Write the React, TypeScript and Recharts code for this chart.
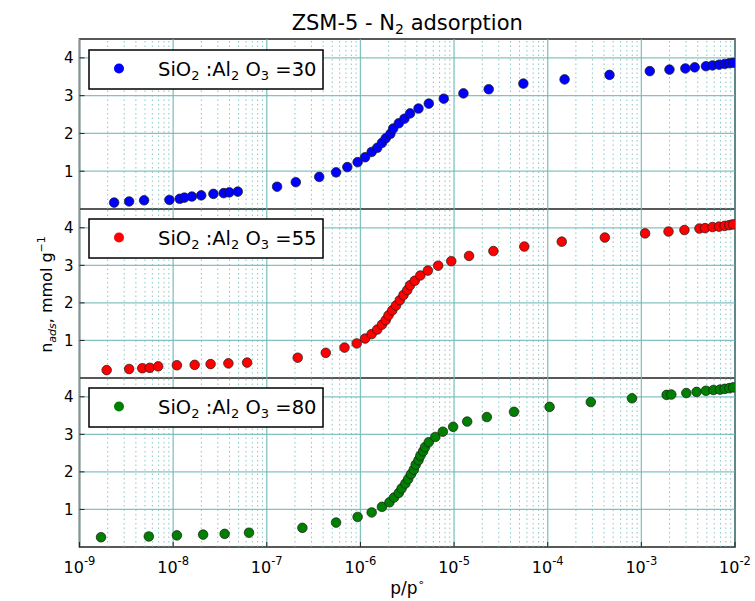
import React from 'react';
import { ScatterChart, Scatter, XAxis, YAxis, ReferenceLine, ReferenceArea, Legend } from 'recharts';

// ---------- data ----------
const decadeExps = [-9, -8, -7, -6, -5, -4, -3, -2];
const minorMults = [2, 3, 4, 5, 6, 7, 8, 9];
const yTicks = [1, 2, 3, 4];

// log10(p/p°) and n_ads (mmol/g)
const logP30 = [-8.63, -8.47, -8.31, -8.04, -7.93, -7.88, -7.80, -7.70, -7.57, -7.46,
  -7.40, -7.31, -6.89, -6.69, -6.44, -6.26, -6.14, -6.03, -5.95, -5.88,
  -5.82, -5.77, -5.73, -5.68, -5.65, -5.59, -5.53, -5.47, -5.38, -5.27,
  -5.11, -4.90, -4.63, -4.26, -3.82, -3.34, -2.91, -2.70, -2.53, -2.43,
  -2.31, -2.24, -2.17, -2.11, -2.06, -2.02];
const n30 = [0.17, 0.20, 0.23, 0.24, 0.27, 0.30, 0.33, 0.36, 0.40, 0.42,
  0.44, 0.46, 0.59, 0.71, 0.85, 0.97, 1.11, 1.24, 1.37, 1.51,
  1.62, 1.75, 1.87, 1.99, 2.13, 2.27, 2.39, 2.53, 2.66, 2.79,
  2.92, 3.06, 3.17, 3.32, 3.43, 3.55, 3.65, 3.69, 3.72, 3.75,
  3.78, 3.80, 3.82, 3.84, 3.86, 3.87];

const logP55 = [-8.71, -8.47, -8.33, -8.25, -8.16, -7.96, -7.77, -7.60, -7.41, -7.21,
  -6.67, -6.37, -6.17, -6.04, -5.95, -5.88, -5.82, -5.77, -5.73, -5.70,
  -5.66, -5.62, -5.58, -5.54, -5.50, -5.47, -5.42, -5.36, -5.28, -5.17,
  -5.03, -4.84, -4.58, -4.25, -3.85, -3.39, -2.96, -2.71, -2.54, -2.38,
  -2.32, -2.24, -2.17, -2.11, -2.06, -2.02];
const n55 = [0.21, 0.24, 0.26, 0.27, 0.31, 0.34, 0.35, 0.37, 0.39, 0.41,
  0.54, 0.67, 0.81, 0.92, 1.05, 1.17, 1.29, 1.42, 1.54, 1.67,
  1.80, 1.93, 2.07, 2.21, 2.34, 2.47, 2.59, 2.73, 2.86, 2.99,
  3.11, 3.25, 3.38, 3.50, 3.63, 3.74, 3.85, 3.90, 3.94, 3.98,
  3.99, 4.02, 4.03, 4.05, 4.07, 4.09];

const logP80 = [-8.77, -8.26, -7.96, -7.68, -7.45, -7.19,
  -6.62, -6.26, -6.03, -5.88, -5.77, -5.69, -5.64, -5.59, -5.56, -5.52,
  -5.49, -5.46, -5.43, -5.41, -5.38, -5.36, -5.33, -5.31, -5.27, -5.20,
  -5.12, -5.01, -4.86, -4.65, -4.36, -3.98, -3.54, -3.10, -2.73, -2.68,
  -2.52, -2.41, -2.31, -2.23, -2.16, -2.11, -2.06, -2.02];
const n80 = [0.26, 0.28, 0.31, 0.33, 0.35, 0.38,
  0.51, 0.65, 0.80, 0.92, 1.07, 1.19, 1.32, 1.44, 1.56, 1.69,
  1.81, 1.94, 2.06, 2.19, 2.31, 2.43, 2.55, 2.66, 2.79, 2.93,
  3.07, 3.20, 3.34, 3.46, 3.60, 3.73, 3.86, 3.96, 4.05, 4.06,
  4.10, 4.13, 4.16, 4.18, 4.19, 4.21, 4.23, 4.25];

// ---------- helpers ----------
const FONT = "'DejaVu Sans', sans-serif";
const W = 755;
const GRID = '#6fb7b7';
const X_DOMAIN: [number, number] = [1e-9, 1e-2];
const Y_DOMAIN: [number, number] = [0, 4.5];

const majorTicks = decadeExps.map((e) => Math.pow(10, e));
const minorTicks: number[] = [];
decadeExps.slice(0, -1).forEach((e) => minorMults.forEach((m) => minorTicks.push(m * Math.pow(10, e))));

const toRows = (lp: number[], n: number[]) => lp.map((l, i) => ({ p: Math.pow(10, l), n: n[i] }));

const XTick = (props: any) => {
  const { x, y, payload } = props;
  const exp = Math.round(Math.log10(payload.value));
  return (
    <text x={x} y={y + 26} textAnchor="middle" fontFamily={FONT} fill="#000">
      <tspan fontSize={16}>10</tspan>
      <tspan fontSize={11.5} dy={-8}>{String(exp)}</tspan>
    </text>
  );
};

const XLabel = (props: any) => {
  const vb = props.viewBox || { x: 79.5, width: 655.5, y: 169 };
  const cx = vb.x + vb.width / 2;
  return (
    <text x={cx} y={216} textAnchor="middle" fontFamily={FONT} fontSize={17} fill="#000">
      p/p<tspan fontSize={11} dy={-8}>∘</tspan>
    </text>
  );
};

const YLabel = (props: any) => {
  const vb = props.viewBox;
  const cy = vb && typeof vb.y === 'number' ? vb.y + vb.height / 2 + 1 : 86;
  const bx = 52;
  return (
    <text transform={`translate(${bx},${cy}) rotate(-90)`} x={0} y={0} textAnchor="middle" fontFamily={FONT} fontSize={16} fill="#000">
      n<tspan fontSize={11} fontStyle="italic" dy={4}>ads</tspan>
      <tspan dy={-4}>, mmol g</tspan>
      <tspan fontSize={11} dy={-7}>−1</tspan>
    </text>
  );
};

const LegendBox = ({ color, ratio }: { color: string; ratio: string }) => (
  <svg width={238} height={42} style={{ display: 'block' }}>
    <rect x={1} y={1} width={234} height={39} fill="#fff" stroke="#000" strokeWidth={1.5} />
    <circle cx={31} cy={19.5} r={5} fill={color} />
    <text x={70} y={27} fontFamily={FONT} fontSize={19.5} fill="#000">
      SiO<tspan fontSize={13} dy={4}>2</tspan>
      <tspan dy={-4}> :Al</tspan><tspan fontSize={13} dy={4}>2</tspan>
      <tspan dy={-4}> O</tspan><tspan fontSize={13} dy={4}>3</tspan>
      <tspan dy={-4}> =</tspan>{ratio}
    </text>
  </svg>
);

type PanelProps = {
  top: number; height: number; marginTop: number;
  logP: number[]; n: number[]; color: string; ratio: string;
  legendTop: number; showX: boolean; showYLabel: boolean;
};

const Panel = ({ top, height, marginTop, logP, n, color, ratio, legendTop, showX, showYLabel }: PanelProps) => {
  const data = toRows(logP, n);
  const dot = (p: any) => (
    <circle cx={p.cx} cy={p.cy} r={4.8} fill={color} stroke="#1a1a1a" strokeWidth={0.7} />
  );
  return (
    <div style={{ position: 'absolute', left: 0, top }}>
      <ScatterChart width={W} height={height} margin={{ top: marginTop, right: 20, bottom: 0, left: 0 }}>
        <XAxis
          dataKey="p" type="number" scale="log" domain={X_DOMAIN} allowDataOverflow
          ticks={majorTicks} hide={!showX} height={showX ? height - marginTop - 169 : 0}
          axisLine={false} tickLine={{ stroke: '#222' }} tickSize={-5} tickMargin={5}
          tick={<XTick />} interval={0}
          label={showX ? { content: XLabel } : undefined}
        />
        <YAxis
          dataKey="n" type="number" domain={Y_DOMAIN} allowDataOverflow ticks={yTicks} width={79.5}
          axisLine={false} tickLine={{ stroke: '#222' }} tickSize={-5} tickMargin={11}
          tick={{ fontSize: 15, fill: '#000', fontFamily: FONT }}
          label={showYLabel ? { content: YLabel } : undefined}
        />
        {minorTicks.map((v) => (
          <ReferenceLine key={`m${v}`} x={v} stroke={GRID} strokeWidth={1} strokeDasharray="1.5 3" strokeOpacity={0.8} />
        ))}
        {majorTicks.map((v) => (
          <ReferenceLine key={`M${v}`} x={v} stroke={GRID} strokeWidth={1.3} strokeOpacity={0.85} />
        ))}
        {yTicks.map((v) => (
          <ReferenceLine key={`h${v}`} y={v} stroke={GRID} strokeWidth={1.3} strokeOpacity={0.85} />
        ))}
        <Scatter name={ratio} data={data} shape={dot} fill={color} isAnimationActive={false} />
        <ReferenceArea x1={X_DOMAIN[0]} x2={X_DOMAIN[1]} y1={Y_DOMAIN[0]} y2={Y_DOMAIN[1]}
          fill="none" fillOpacity={0} stroke="#222" strokeWidth={1.6} />
        <Legend
          layout="horizontal" verticalAlign="middle" align="center"
          wrapperStyle={{ left: 88, top: legendTop, width: 238, height: 42 }}
          content={() => <LegendBox color={color} ratio={ratio} />}
        />
      </ScatterChart>
    </div>
  );
};

export default function App() {
  return (
    <div style={{ position: 'absolute', left: 0, top: 0, width: W, height: 601, background: '#fff', fontFamily: FONT }}>
      <div style={{ position: 'absolute', left: 79.5, top: 13, width: 655.5, textAlign: 'center', fontSize: 21, lineHeight: '20px', color: '#000' }}>
        ZSM-5 - N<span style={{ fontSize: 14, verticalAlign: '-0.3em', lineHeight: 0 }}>2</span> adsorption
      </div>
      <Panel top={0} height={209} marginTop={39} logP={logP30} n={n30} color="#0000ff" ratio="30" legendTop={49} showX={false} showYLabel={false} />
      <Panel top={209} height={169} marginTop={0} logP={logP55} n={n55} color="#ff0000" ratio="55" legendTop={9} showX={false} showYLabel={true} />
      <Panel top={378} height={223} marginTop={0} logP={logP80} n={n80} color="#008000" ratio="80" legendTop={9} showX={true} showYLabel={false} />
    </div>
  );
}
